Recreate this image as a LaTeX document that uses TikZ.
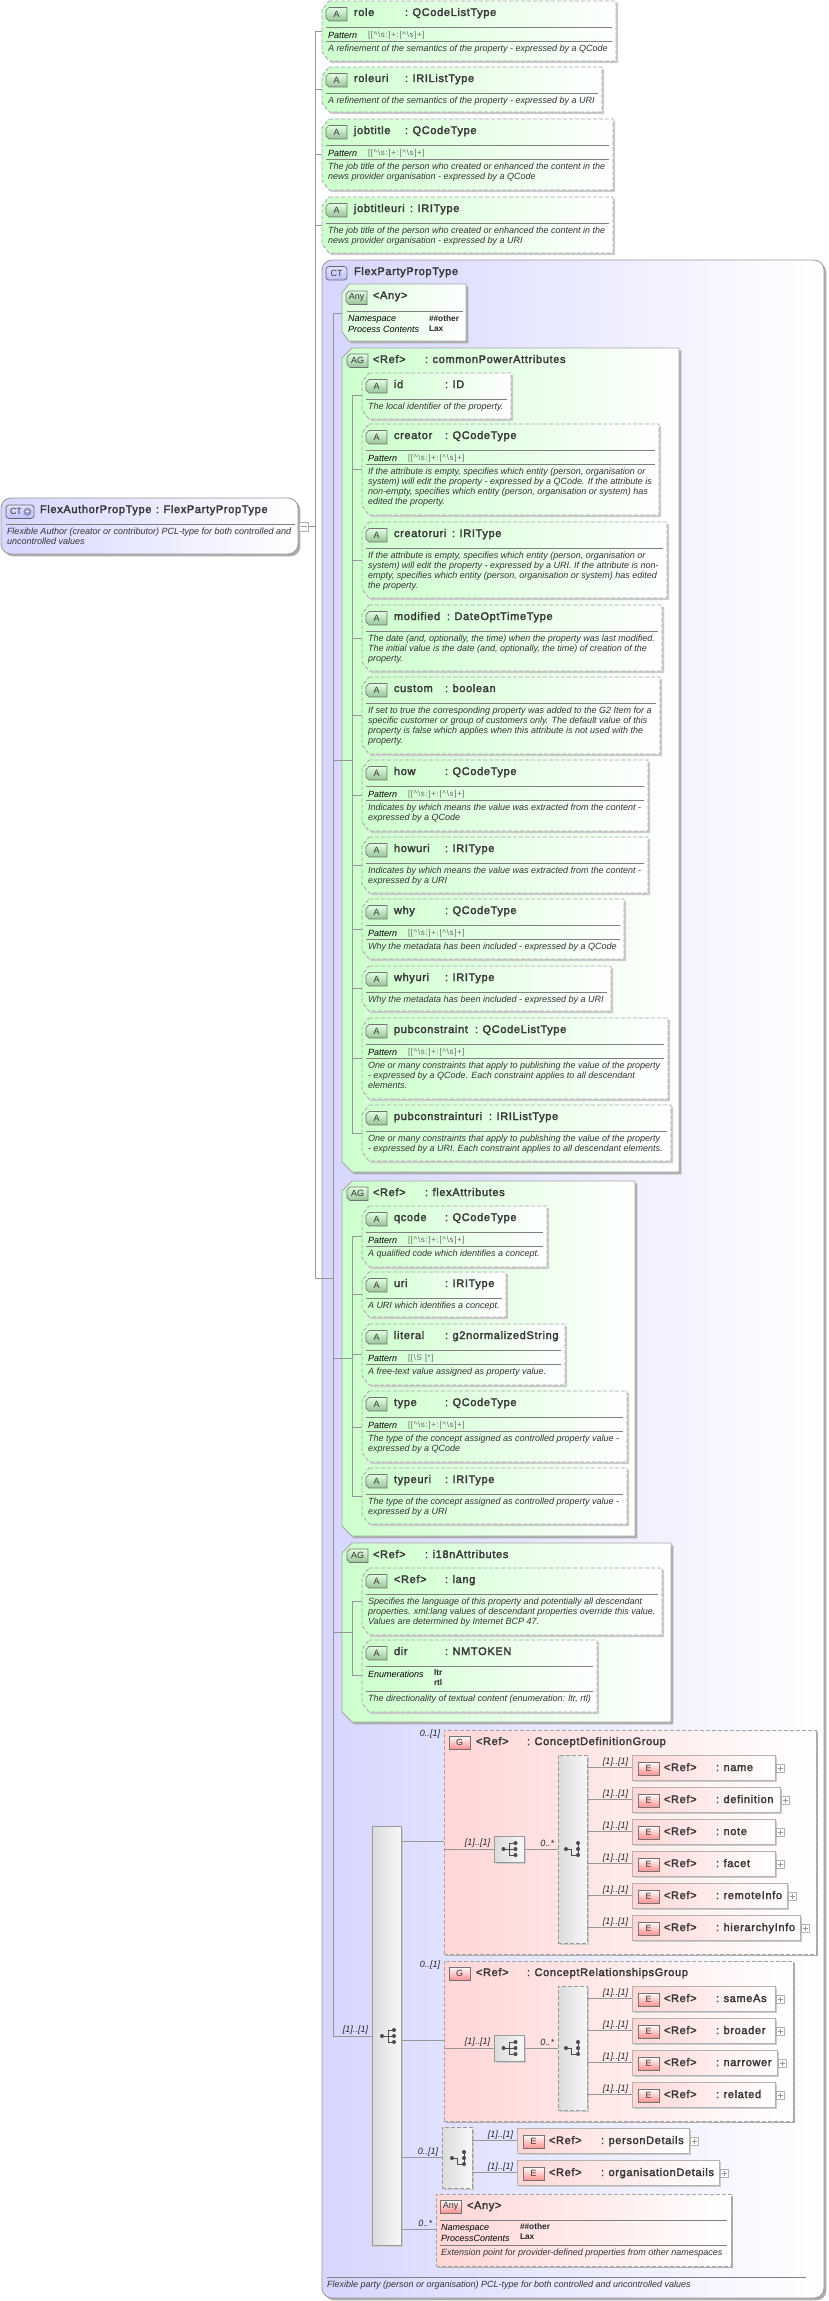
\documentclass[tikz,border=0pt]{standalone}
\usepackage{fontspec}
\setmainfont{Liberation Sans}
\newfontfamily\lTitleFont[LetterSpace=6,FakeBold=2.5]{Liberation Sans}
\newfontfamily\lPatFont[LetterSpace=8]{Liberation Sans}
\usetikzlibrary{shadows}
\definecolor{themeGreen}{RGB}{205, 255, 205}
\definecolor{themeRed}{RGB}{255, 214, 214}
\definecolor{themeBlue}{RGB}{214, 214, 255}
\definecolor{themeLine}{RGB}{150, 150, 150}
\newcommand{\lPatQ}{[[\textasciicircum\textbackslash s:]+:[\textasciicircum\textbackslash s]+]}
\newcommand{\lPatS}{[[\textbackslash S ]*]}
\newcommand{\lName}[3]{\makebox[#2pt][l]{#1}:\hspace{4.5pt}#3}
\newcommand{\chamfpath}[4]{%
    \path[#2] ([xshift=#3pt]#1.north west) -- (#1.north east) -- (#1.south east) -- ([xshift=#3pt]#1.south west) -- ([yshift=#4pt]#1.south west) -- ([yshift=-#4pt]#1.north west) -- cycle;
}
\newcommand{\attricon}[4]{%
    \node[frame, minimum width=21pt, minimum height=13.5pt] (#1) at (#2,#3) {};
    \chamfpath{#1}{icon attr}{3}{3}
    \node[icon text] (#1text) at (#1.center) {#4};
}
\newcommand{\attrbox}{%
    \pgfmathsetmacro{\BoxW}{\rgt-\attrx}
    \pgfmathsetmacro{\BoxH}{\ybot-\ytop}
    \pgfmathsetmacro{\SepY}{\ytop+26}
    \pgfmathsetmacro{\DescY}{\pat>0 ? \SepY+22 : \SepY+8}
    \node[frame, minimum width=\BoxW pt, minimum height=\BoxH pt] (\grp\i) at (\attrx,\ytop) {};
    \chamfpath{\grp\i}{attr box}{7}{9}
    \attricon{\grp\i icon}{\attrx+4}{\ytop+6.5}{A}
    \node[title text] (\grp\i title) at (\attrx+32,\ytop+15) {\lName{\nm}{\cw}{\tp}};
    \draw[sep line] (\attrx+4,\SepY) -- (\rgt-4,\SepY);
    \ifnum\pat>0
        \draw[sep line] (\attrx+4,\SepY+14) -- (\rgt-4,\SepY+14);
        \node[cap text] (\grp\i pat) at (\attrx+6,\SepY+8) {Pattern};
        \node[pat text] (\grp\i patval) at (\attrx+46,\SepY+8) {\ifcase\pat\or\lPatQ\or\lPatS\fi};
    \fi
    \node[desc text] (\grp\i desc) at (\attrx+6,\DescY-4.5) {\desc};
    \coordinate (\grp\i stub) at (\trunkx,\stub);
    \draw[conn] (\grp\i stub) -- (\grp\i stub -| \grp\i.west);
}
\newcommand{\elembox}{%
    \pgfmathsetmacro{\BoxW}{\rgt-\elemx}
    \node[elem box, minimum width=\BoxW pt] (\nm) at (\elemx,\ytop) {};
    \node[icon elem] (\nm icon) at (\elemx+6,\ytop+7) {E};
    \node[title text] (\nm title) at (\elemx+32,\ytop+16) {\lName{<Ref>}{52}{\nm}};
    \node[plus box] (\nm plus) at (\rgt+5,\ytop+13.5) {};
    \draw[plus sign] (\nm plus.west) ++(1.5,0) -- ++(5,0) (\nm plus.north) ++(0,1.5) -- ++(0,5);
    \draw[conn] (\nm.west -| \seqbox.east) -- (\nm.west);
    \node[occ text, anchor=east] (\nm occ) at (\elemx-4,\ytop+7) {[1]..[1]};
}
\newcommand{\seqglyph}[2]{%
    \begin{scope}[shift={(#1,#2)}]
        \fill[black!70] (0,0) circle (2) (12,-6) circle (2) (12,0) circle (2) (12,6) circle (2);
        \draw[black!70, line width=.7pt] (0,0) -- (6,0) (12,-6) -- (6,-6) -- (6,6) -- (12,6) (6,0) -- (12,0);
    \end{scope}
}
\newcommand{\choiceglyph}[2]{%
    \begin{scope}[shift={(#1,#2)}]
        \fill[black!70] (0,0) circle (2) (12,-6) circle (2) (12,0) circle (2) (12,6) circle (2);
        \draw[black!70, line width=.7pt] (0,0) -- (5,0) -- (5,6) -- (12,6) (12,-6) -- (12,6);
    \end{scope}
}

\begin{document}
\begin{tikzpicture} [
        x=1pt, y=-1pt,
        every node/.style={outer sep=0pt},
        conn/.style={draw=themeLine, line width=.7pt},
        sep line/.style={draw=black!50, line width=.6pt},
        shadow soft/.style={drop shadow={shadow xshift=2.2pt, shadow yshift=-2.2pt, fill=black!20, opacity=1}},
        shadow hard/.style={drop shadow={shadow xshift=2.4pt, shadow yshift=-2.4pt, fill=black!32, opacity=1}},
        frame/.style={shape=rectangle, anchor=north west, inner sep=0pt},
        attr box/.style={draw=black!35, dash pattern=on 4pt off 2pt, line width=.8pt, left color=themeGreen, right color=white, shadow soft},
        group attr/.style={draw=black!35, line width=.8pt, left color=themeGreen, right color=white, shadow hard},
        any box/.style={draw=black!35, line width=.8pt, left color=themeGreen!70, right color=white, shadow hard},
        icon text/.style={font=\fontsize{9}{10}\selectfont, inner sep=0pt, text=black!80},
        icon base/.style={minimum width=21pt, minimum height=13.5pt, inner sep=0pt, anchor=north west, font=\fontsize{9}{10}\selectfont, line width=.7pt},
        icon attr/.style={draw=black!55, line width=.7pt, top color=themeGreen!60, bottom color=green!40!black!40},
        icon elem/.style={shape=rectangle, icon base, draw=black!55, top color=white, bottom color=red!45, text=black!80},
        icon ct/.style={shape=rectangle, icon base, rounded corners=3pt, draw=black!60, top color=themeBlue!70, bottom color=blue!25, text=black!80},
        ct box/.style={shape=rectangle, anchor=north west, inner sep=0pt, rounded corners=10pt, draw=black!40, line width=.8pt, left color=themeBlue, right color=white, shadow hard},
        group box/.style={shape=rectangle, anchor=north west, inner sep=0pt, draw=black!35, dash pattern=on 4pt off 2pt, line width=.8pt, left color=themeRed, right color=white, shadow hard},
        elem box/.style={shape=rectangle, anchor=north west, inner sep=0pt, minimum height=25pt, draw=black!30, line width=1pt, left color=themeRed, right color=white, shadow soft},
        seq solid/.style={shape=rectangle, anchor=north west, inner sep=0pt, draw=black!40, line width=.7pt, left color=black!14, right color=black!3, shadow soft},
        seq dashed/.style={seq solid, dash pattern=on 4pt off 2pt},
        plus box/.style={shape=rectangle, inner sep=0pt, minimum size=8pt, draw=black!30, line width=.5pt, fill=white},
        plus sign/.style={draw=black!40, line width=.5pt},
        title text/.style={font=\lTitleFont\fontsize{11}{13}\selectfont, anchor=base west, inner sep=0pt, text=black!78},
        desc text/.style={font=\itshape\fontsize{9}{10}\selectfont, anchor=north west, inner sep=0pt, align=left, text=black!80},
        cap text/.style={font=\itshape\fontsize{9}{10}\selectfont, anchor=west, inner sep=0pt, text=black},
        pat text/.style={font=\lPatFont\fontsize{8}{9}\selectfont, anchor=west, inner sep=0pt, text=black!60},
        val text/.style={font=\bfseries\fontsize{8.3}{10}\selectfont, anchor=west, inner sep=0pt, text=black!85},
        occ text/.style={font=\itshape\fontsize{9}{10}\selectfont, inner sep=0pt, text=black!85}
    ]
    \useasboundingbox (0,0) rectangle (829,2301);

    % main type on the left
    \node[ct box, minimum width=297pt, minimum height=56pt] (author) at (1,498) {};
    \node[icon ct, minimum width=28pt] (author icon) at (6,505) {\hspace{-8pt}CT};
    \node[shape=circle, fill=black!55!blue!45, inner sep=0pt, minimum size=8pt, text=white, font=\bfseries\fontsize{8}{8}\selectfont] (author icon plus) at (27.5,511.7) {+};
    \node[title text] (author title) at (40,513) {FlexAuthorPropType\hspace{4.5pt}:\hspace{4.5pt}FlexPartyPropType};
    \draw[sep line] (6,524) -- (295,524);
    \node[desc text] (author desc) at (7,527.5) {Flexible Author (creator or contributor) PCL-type for both controlled and\\uncontrolled values};
    \node[plus box, minimum size=9pt, anchor=west] (author minus) at (299,526.5) {};
    \draw[plus sign] (author minus.west) ++(1.5,0) -- ++(6,0);
    \coordinate (trunk split) at (315,526.5);
    \draw[conn] (author minus.east) -- (trunk split);

    % attributes of the type itself
    \def\grp{top}
    \def\attrx{322}
    \def\trunkx{315}
    \foreach \nm/\tp/\cw/\ytop/\ybot/\rgt/\stub/\pat/\desc [count=\i] in {
        role/QCodeListType/51/1/61/616/31/1/{A refinement of the semantics of the property - expressed by a QCode},
        roleuri/IRIListType/51/67/112/602/89/0/{A refinement of the semantics of the property - expressed by a URI},
        jobtitle/QCodeType/51/119/190/613/154/1/{The job title of the person who created or enhanced the content in the\\news provider organisation - expressed by a QCode},
        jobtitleuri/IRIType/56/197/253/613/225/0/{The job title of the person who created or enhanced the content in the\\news provider organisation - expressed by a URI}} {
        \attrbox
    }

    % base type
    \node[ct box, minimum width=502pt, minimum height=2038pt] (base) at (322,260) {};
    \node[icon ct] (base icon) at (326,266.5) {CT};
    \node[title text] (base title) at (354,275) {FlexPartyPropType};
    \draw[sep line] (327,2277) -- (806,2277);
    \node[desc text] (base desc) at (327,2280.5) {Flexible party (person or organisation) PCL-type for both controlled and uncontrolled values};

    \coordinate (trunk join) at (333,1278);
    \draw[conn] (top1stub) -- (top1stub |- trunk join) -- (trunk join);

    \coordinate (trunk top) at (333,313);
    \coordinate (trunk bottom) at (333,2036);
    \draw[conn] (trunk top) -- (trunk bottom);

    % any attribute
    \node[frame, minimum width=124pt, minimum height=57pt] (any attr) at (342,284) {};
    \chamfpath{any attr}{any box}{7}{9}
    \attricon{any attr icon}{346}{291}{Any}
    \node[title text] (any attr title) at (373,299) {<Any>};
    \draw[sep line] (347,311) -- (463,311);
    \node[cap text] (any attr ns) at (348,319) {Namespace};
    \node[cap text] (any attr pc) at (348,329) {Process Contents};
    \node[val text] (any attr nsval) at (429,318.5) {\#\#other};
    \node[val text] (any attr pcval) at (429,328.5) {Lax};
    \draw[conn] (trunk top) -- (trunk top -| any attr.west);

    % attribute groups
    \foreach \grp/\nm/\ytop/\ybot/\rgt/\stub in {
        common/commonPowerAttributes/348/1172/679/760,
        flex/flexAttributes/1181/1536/635/1358,
        lang/i18nAttributes/1543/1722/671/1632} {
        \pgfmathsetmacro{\BoxW}{\rgt-342}
        \pgfmathsetmacro{\BoxH}{\ybot-\ytop}
        \node[frame, minimum width=\BoxW pt, minimum height=\BoxH pt] (\grp) at (342,\ytop) {};
        \chamfpath{\grp}{group attr}{10}{10}
        \attricon{\grp icon}{347}{\ytop+6}{AG}
        \node[title text] (\grp title) at (373,\ytop+15) {\lName{<Ref>}{52}{\nm}};
        \coordinate (\grp join) at (352,\stub);
        \draw[conn] (\grp join -| trunk top) -- (\grp join);
    }

    \def\attrx{362}
    \def\trunkx{352}
    \def\grp{common}
    \foreach \nm/\tp/\cw/\ytop/\ybot/\rgt/\stub/\pat/\desc [count=\i] in {
        id/ID/51/373/419/511/395/0/{The local identifier of the property.},
        creator/QCodeType/51/424/515/659/469/1/{If the attribute is empty, specifies which entity (person, organisation or\\system) will edit the property - expressed by a QCode. If the attribute is\\non-empty, specifies which entity (person, organisation or system) has\\edited the property.},
        creatoruri/IRIType/58/522/598/667/560/0/{If the attribute is empty, specifies which entity (person, organisation or\\system) will edit the property - expressed by a URI. If the attribute is non-\\empty, specifies which entity (person, organisation or system) has edited\\the property.},
        modified/DateOptTimeType/53/605/671/662/638/0/{The date (and, optionally, the time) when the property was last modified.\\The initial value is the date (and, optionally, the time) of creation of the\\property.},
        custom/boolean/51/677/754/660/715/0/{If set to true the corresponding property was added to the G2 Item for a\\specific customer or group of customers only. The default value of this\\property is false which applies when this attribute is not used with the\\property.},
        how/QCodeType/51/760/831/648/795/1/{Indicates by which means the value was extracted from the content -\\expressed by a QCode},
        howuri/IRIType/51/837/893/648/865/0/{Indicates by which means the value was extracted from the content -\\expressed by a URI},
        why/QCodeType/51/899/959/624/929/1/{Why the metadata has been included - expressed by a QCode},
        whyuri/IRIType/51/966/1011/611/988/0/{Why the metadata has been included - expressed by a URI},
        pubconstraint/QCodeListType/81/1018/1099/668/1058/1/{One or many constraints that apply to publishing the value of the property\\- expressed by a QCode. Each constraint applies to all descendant\\elements.},
        pubconstrainturi/IRIListType/95/1105/1161/671/1133/0/{One or many constraints that apply to publishing the value of the property\\- expressed by a URI. Each constraint applies to all descendant elements.}} {
        \attrbox
    }
    \draw[conn] (common1stub) -- (common11stub);

    \def\grp{flex}
    \foreach \nm/\tp/\cw/\ytop/\ybot/\rgt/\stub/\pat/\desc [count=\i] in {
        qcode/QCodeType/51/1206/1267/547/1236/1/{A qualified code which identifies a concept.},
        uri/IRIType/51/1272/1317/506/1294/0/{A URI which identifies a concept.},
        literal/g2normalizedString/51/1324/1385/565/1354/2/{A free-text value assigned as property value.},
        type/QCodeType/51/1391/1462/627/1427/1/{The type of the concept assigned as controlled property value -\\expressed by a QCode},
        typeuri/IRIType/51/1468/1524/627/1496/0/{The type of the concept assigned as controlled property value -\\expressed by a URI}} {
        \attrbox
    }
    \draw[conn] (flex1stub) -- (flex5stub);

    \def\grp{lang}
    \foreach \nm/\tp/\cw/\ytop/\ybot/\rgt/\stub/\pat/\desc [count=\i] in {
        <Ref>/lang/51/1568/1635/662/1601/0/{Specifies the language of this property and potentially all descendant\\properties. xml:lang values of descendant properties override this value.\\Values are determined by Internet BCP 47.}} {
        \attrbox
    }
    \def\grp{langdir}
    \foreach \nm/\tp/\cw/\ytop/\ybot/\rgt/\stub/\pat/\desc [count=\i] in {
        dir/NMTOKEN/51/1640/1712/597/1675/0/{}} {
        \attrbox
    }
    \draw[sep line] (366,1691) -- (593,1691);
    \node[cap text] (dir enum) at (368,1674) {Enumerations};
    \node[val text] (dir ltr) at (434,1673) {ltr};
    \node[val text] (dir rtl) at (434,1683) {rtl};
    \node[desc text] (dir desc) at (368,1694.5) {The directionality of textual content (enumeration: ltr, rtl)};
    \draw[conn] (lang1stub) -- (langdir1stub);

    % main sequence
    \node[seq solid, minimum width=29pt, minimum height=419pt] (main seq) at (372,1826) {};
    \seqglyph{382}{2036}
    \draw[conn] (trunk bottom) -- (trunk bottom -| main seq.west);
    \node[occ text, anchor=east] (main occ) at (368,2030) {[1]..[1]};

    % concept groups
    \foreach \grp/\nm/\ytop/\rgt/\ybot/\inY/\midY/\tallTop/\tallBot in {
        def/ConceptDefinitionGroup/1730/816/1954/1841/1849/1755/1943,
        rel/ConceptRelationshipsGroup/1961/793/2121/2040/2048/1986/2110} {
        \pgfmathsetmacro{\BoxW}{\rgt-444}
        \pgfmathsetmacro{\BoxH}{\ybot-\ytop}
        \pgfmathsetmacro{\TallH}{\tallBot-\tallTop}
        \node[group box, minimum width=\BoxW pt, minimum height=\BoxH pt] (\grp) at (444,\ytop) {};
        \node[icon elem] (\grp icon) at (449,\ytop+6) {G};
        \node[title text] (\grp title) at (476,\ytop+15) {\lName{<Ref>}{51}{\nm}};
        \node[occ text, anchor=east] (\grp occ) at (440,\ytop+4) {0..[1]};
        \coordinate (\grp in) at (444,\inY);
        \draw[conn] (\grp in -| main seq.east) -- (\grp in);
        \node[seq solid, minimum width=30pt, minimum height=26pt] (\grp seq) at (494,\midY-13) {};
        \seqglyph{503.5}{\midY}
        \draw[conn] (\grp.west |- \grp seq.west) -- (\grp seq.west);
        \node[occ text, anchor=east] (\grp seq occ) at (490,\midY-6) {[1]..[1]};
        \node[seq dashed, minimum width=29pt, minimum height=\TallH pt] (\grp tall) at (558,\tallTop) {};
        \choiceglyph{566}{\midY}
        \draw[conn] (\grp seq.east) -- (\grp seq.east -| \grp tall.west);
        \node[occ text, anchor=east] (\grp tall occ) at (554,\midY-6) {0..*};
    }

    \def\elemx{632}
    \def\seqbox{deftall}
    \foreach \nm/\rgt/\ytop in {name/775/1755, definition/780/1787, note/775/1819, facet/775/1851, remoteInfo/787/1883, hierarchyInfo/800/1915} {
        \elembox
    }
    \def\seqbox{reltall}
    \foreach \nm/\rgt/\ytop in {sameAs/775/1986, broader/775/2018, narrower/777/2050, related/775/2082} {
        \elembox
    }

    % person or organisation
    \node[seq dashed, minimum width=30pt, minimum height=61pt] (party) at (442,2127) {};
    \choiceglyph{452}{2158}
    \draw[conn] (party.west -| main seq.east) -- (party.west);
    \node[occ text, anchor=east] (party occ) at (438,2152) {0..[1]};
    \def\elemx{517}
    \def\seqbox{party}
    \foreach \nm/\rgt/\ytop in {personDetails/689/2128, organisationDetails/719/2160} {
        \elembox
    }

    % any element
    \node[group box, minimum width=295pt, minimum height=72pt] (any elem) at (436,2194) {};
    \node[icon elem] (any elem icon) at (440,2200) {Any};
    \node[title text] (any elem title) at (467,2209) {<Any>};
    \draw[sep line] (440,2220) -- (727,2220);
    \draw[sep line] (440,2245) -- (727,2245);
    \node[cap text] (any elem ns) at (441,2228) {Namespace};
    \node[cap text] (any elem pc) at (441,2238) {ProcessContents};
    \node[val text] (any elem nsval) at (520,2227) {\#\#other};
    \node[val text] (any elem pcval) at (520,2237) {Lax};
    \node[desc text] (any elem desc) at (441,2248.5) {Extension point for provider-defined properties from other namespaces};
    \coordinate (any elem in) at (436,2229);
    \draw[conn] (any elem in -| main seq.east) -- (any elem in);
    \node[occ text, anchor=east] (any elem occ) at (432,2223) {0..*};

\end{tikzpicture}
\end{document}
